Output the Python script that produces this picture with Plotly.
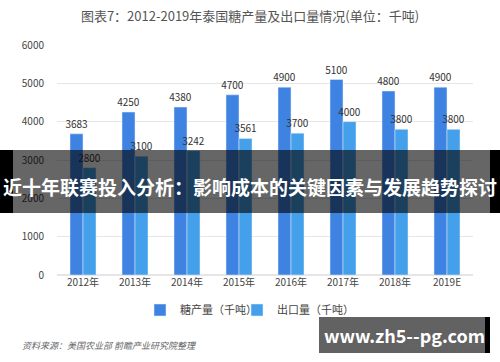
import plotly.graph_objects as go

years = ["2012年", "2013年", "2014年", "2015年", "2016年", "2017年", "2018年", "2019E"]
production = [3683, 4250, 4380, 4700, 4900, 5100, 4800, 4900]
exports = [2800, 3100, 3242, 3561, 3700, 4000, 3800, 3800]

L, T, PW, PH = 57, 45, 416, 230


def px(x):
    return (x - L) / PW


def py(y):
    return (T + PH - y) / PH


fig = go.Figure()
fig.add_trace(go.Bar(x=years, y=production, name="糖产量（千吨）", marker_color="#3F83E2",
                     text=production, textposition="outside", cliponaxis=False, constraintext="none",
                     textfont=dict(size=10, color="#333"), legend="legend"))
fig.add_trace(go.Bar(x=years, y=exports, name="出口量（千吨）", marker_color="#45A0EC",
                     text=exports, textposition="outside", cliponaxis=False, constraintext="none",
                     textfont=dict(size=10, color="#333"), legend="legend2"))

leg_common = dict(orientation="h", y=py(310), yanchor="middle", xanchor="left",
                  font=dict(size=11, color="#444"), itemwidth=30, bgcolor="rgba(0,0,0,0)")

fig.update_layout(
    width=500, height=362,
    margin=dict(l=L, r=500 - L - PW, t=T, b=362 - T - PH),
    paper_bgcolor="white", plot_bgcolor="white",
    barmode="group", bargap=0.5, bargroupgap=0,
    font=dict(family="Noto Sans CJK SC, sans-serif", size=10, color="#444"),
    title=dict(text="图表7：2012-2019年泰国糖产量及出口量情况(单位：千吨)", x=0.5, xanchor="center",
               y=1 - 16 / 362, yanchor="middle", font=dict(size=13, color="#555")),
    legend=dict(x=px(140), **leg_common),
    legend2=dict(x=px(237), **leg_common),
    showlegend=True,
)
fig.update_yaxes(range=[0, 6000], dtick=1000, showgrid=True, gridcolor="#E6E6E6",
                 zeroline=True, zerolinecolor="#E6E6E6", tickfont=dict(size=10, color="#444"),
                 ticklabelstandoff=12)
fig.update_xaxes(tickfont=dict(size=10, color="#444"), showline=False)

# bottom source text
fig.add_annotation(text="<i>资料来源：美国农业部 前瞻产业研究院整理</i>", xref="paper", yref="paper",
                   x=px(20), y=py(345), xanchor="left", yanchor="middle", showarrow=False,
                   font=dict(size=9, color="#666"))
fig.add_annotation(text="@前瞻经济学人APP", xref="paper", yref="paper",
                   x=px(484), y=py(345), xanchor="right", yanchor="middle", showarrow=False,
                   font=dict(size=9, color="#666"))

# overlay banner
fig.add_shape(type="rect", xref="paper", yref="paper", x0=px(0), x1=px(500),
              y0=py(213), y1=py(150), fillcolor="rgba(0,0,0,0.6)", line_width=0, layer="above")
fig.add_shape(type="rect", xref="paper", yref="paper", x0=px(0), x1=px(13),
              y0=py(213), y1=py(150), fillcolor="black", line_width=0, layer="above")
fig.add_shape(type="rect", xref="paper", yref="paper", x0=px(490), x1=px(500),
              y0=py(213), y1=py(150), fillcolor="black", line_width=0, layer="above")
fig.add_annotation(text="<b>近十年联赛投入分析：影响成本的关键因素与发展趋势探讨</b>", xref="paper", yref="paper",
                   x=px(250), y=py(186), xanchor="center", yanchor="middle",
                   showarrow=False, font=dict(size=19, color="white"))

# watermark box
fig.add_shape(type="rect", xref="paper", yref="paper", x0=px(319), x1=px(485),
              y0=py(353), y1=py(317), fillcolor="rgba(85,85,85,0.92)", line_width=0, layer="above")
fig.add_shape(type="rect", xref="paper", yref="paper", x0=px(485), x1=px(490),
              y0=py(353), y1=py(317), fillcolor="black", line_width=0, layer="above")
fig.add_annotation(text="<b>www.zh5--pg.com</b>", xref="paper", yref="paper",
                   x=px(404), y=py(335), xanchor="center", yanchor="middle",
                   showarrow=False, font=dict(size=18, color="white"))

fig.write_html("out.html", config={"displayModeBar": False},
               post_script="document.body.style.margin='0';")
